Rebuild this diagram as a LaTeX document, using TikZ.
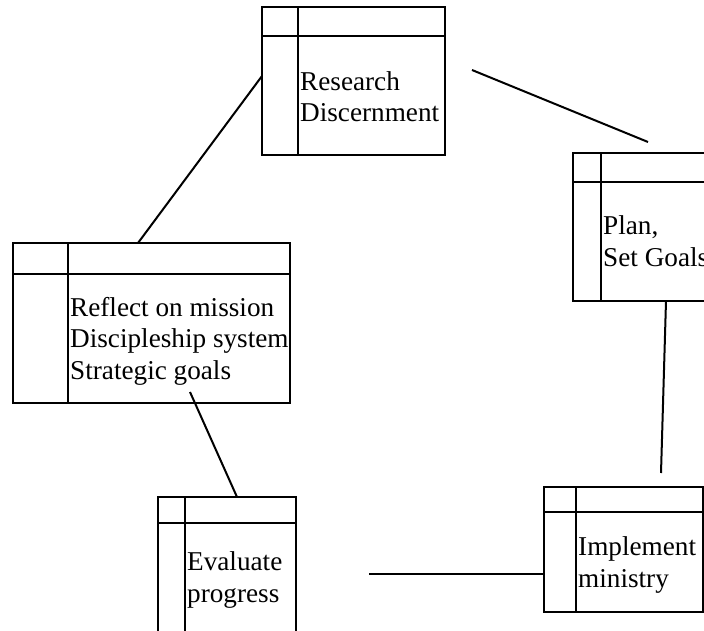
\documentclass[tikz,border=0pt]{standalone}
\usepackage{fontspec}
\setmainfont{Liberation Serif}
\begin{document}
\begin{tikzpicture}[x=1pt,y=-1pt,
  boxline/.style={draw=black, line width=2pt},
  umlbox/.style={boxline, anchor=north west, inner sep=0pt, outer sep=0pt},
  conn/.style={draw=black, line width=2pt},
  lbl/.style={anchor=base west, align=left, inner sep=0pt,
              font=\fontsize{27.2}{31.3}\selectfont}]
\useasboundingbox (0,0) rectangle (704,631);
\fill[white] (0,0) rectangle (704,631);
\begin{scope}
\clip (0,0) rectangle (704,631);
% boxes
\node[umlbox, minimum width=183pt, minimum height=148pt] (R) at (262,7) {};
\node[umlbox, minimum width=147pt, minimum height=148pt] (P) at (573,153) {};
\node[umlbox, minimum width=277pt, minimum height=160pt] (F) at (13,243) {};
\node[umlbox, minimum width=159pt, minimum height=125pt] (I) at (544,487) {};
\node[umlbox, minimum width=138pt, minimum height=163pt] (E) at (158,497) {};
% header lines and dividers
\draw[boxline] ([yshift=-29pt]R.north west) -- ([yshift=-29pt]R.north east);
\draw[boxline] ([xshift=36pt]R.north west) -- ([xshift=36pt]R.south west);
\draw[boxline] ([yshift=-29pt]P.north west) -- ([yshift=-29pt]P.north east);
\draw[boxline] ([xshift=28pt]P.north west) -- ([xshift=28pt]P.south west);
\draw[boxline] ([yshift=-31pt]F.north west) -- ([yshift=-31pt]F.north east);
\draw[boxline] ([xshift=55pt]F.north west) -- ([xshift=55pt]F.south west);
\draw[boxline] ([yshift=-25pt]I.north west) -- ([yshift=-25pt]I.north east);
\draw[boxline] ([xshift=32pt]I.north west) -- ([xshift=32pt]I.south west);
\draw[boxline] ([yshift=-26pt]E.north west) -- ([yshift=-26pt]E.north east);
\draw[boxline] ([xshift=27pt]E.north west) -- ([xshift=27pt]E.south west);
% texts (anchored at the baseline of the last line)
\node[lbl] (tR) at (300,122) {Research\\Discernment};
\node[lbl] (tP) at (603,266) {Plan,\\Set Goals};
\node[lbl] (tF) at (70,379) {Reflect on mission\\Discipleship system\\Strategic goals};
\node[lbl] (tI) at (578,587) {Implement\\ministry};
\node[lbl] (tE) at (187,602) {Evaluate\\progress};
% connectors
\coordinate (rp1) at (472,70);
\coordinate (rp2) at (648,142);
\coordinate (rf1) at (262,76);
\coordinate (rf2) at (138,243);
\coordinate (fe1) at (190,392);
\coordinate (fe2) at (237,497);
\coordinate (pi1) at (666,301);
\coordinate (pi2) at (661,473);
\coordinate (ei1) at (369,574);
\draw[conn] (rp1) -- (rp2);
\draw[conn] (rf1 -| R.west) -- (rf2 |- F.north);
\draw[conn] (fe1) -- (fe2 |- E.north);
\draw[conn] (pi1 |- P.south) -- (pi2);
\draw[conn] (ei1) -- (ei1 -| I.west);
\end{scope}
\end{tikzpicture}
\end{document}
